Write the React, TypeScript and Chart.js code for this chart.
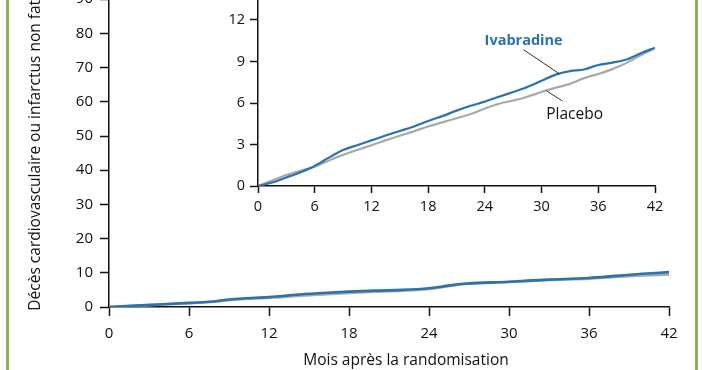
import React, { useEffect, useRef } from "react";
import { Chart, registerables } from "chart.js";

Chart.register(...registerables);

// ---- data ----
const seriesNames = ["Ivabradine", "Placebo"];
const xTicks = [0, 6, 12, 18, 24, 30, 36, 42];
const mainYTicks = [0, 10, 20, 30, 40, 50, 60, 70, 80, 90, 100];
const insetYTicks = [0, 3, 6, 9, 12, 15];
const xTitle = "Mois après la randomisation";
const yTitle = "Décès cardiovasculaire ou infarctus non fatal (%)";

const mainMonths = [0, 2, 4, 6, 7, 8, 9, 10, 12, 13, 14, 16, 18, 20, 22, 24, 25, 26, 27, 30, 33, 36, 38, 40, 42];
const mainIvabradine = [0, 0.4, 0.8, 1.2, 1.4, 1.7, 2.2, 2.5, 2.9, 3.2, 3.6, 4.1, 4.5, 4.8, 5.0, 5.5, 6.0, 6.6, 6.9, 7.4, 8.0, 8.5, 9.1, 9.7, 10.2];
const mainPlacebo = [0, 0.35, 0.75, 1.1, 1.3, 1.6, 2.0, 2.3, 2.7, 2.9, 3.2, 3.7, 4.1, 4.5, 4.8, 5.3, 5.8, 6.4, 6.8, 7.3, 7.9, 8.3, 8.8, 9.2, 9.5];

const insetMonths = [0, 1.5, 3, 4.5, 6, 7.5, 9, 10.5, 12, 13.5, 15, 16.5, 18, 19.5, 21, 22.5, 24, 25.5, 27, 28.5, 30, 31.5, 33, 34.5, 36, 37.5, 39, 40.5, 42];
const insetIvabradine = [0, 0.25, 0.62, 1.0, 1.45, 2.05, 2.6, 2.95, 3.3, 3.65, 3.98, 4.3, 4.7, 5.05, 5.45, 5.8, 6.1, 6.45, 6.8, 7.15, 7.6, 8.05, 8.3, 8.42, 8.75, 8.92, 9.15, 9.6, 10.0];
const insetPlacebo = [0, 0.4, 0.8, 1.1, 1.4, 1.85, 2.25, 2.6, 2.95, 3.3, 3.63, 3.95, 4.3, 4.6, 4.9, 5.2, 5.6, 5.95, 6.18, 6.45, 6.8, 7.1, 7.38, 7.8, 8.1, 8.45, 8.9, 9.45, 9.95];

// label anchors in inset data coordinates
const ivaLabelAt = { x: 28.1, y: 10.5 };
const ivaLeader = [{ x: 28.1, y: 9.85 }, { x: 31.9, y: 8.1 }];
const plaLabelAt = { x: 33.5, y: 5.13 };
const plaLeader = [{ x: 30.5, y: 6.88 }, { x: 32.2, y: 6.15 }];

// ---- styles ----
const BLUE = "#2c72ad";
const GRAY = "#a9a9a9";
const INK = "#111111";
const FONT = "'Open Sans', 'DejaVu Sans', sans-serif";
const GREEN = "#8db25f";

const pts = (xs: number[], ys: number[]) => xs.map((x, i) => ({ x, y: ys[i] }));

function axisCommon(tickLen: number, pad: number, size: number, ticksArr: number[]) {
  return {
    type: "linear" as const,
    grid: { display: true, drawOnChartArea: false, drawTicks: true, tickLength: tickLen, tickColor: INK, tickWidth: 1.5 },
    border: { display: true, color: INK, width: 1.5 },
    ticks: { color: INK, padding: pad, font: { family: FONT, size }, autoSkip: false, maxRotation: 0 },
    afterBuildTicks: (s: any) => {
      s.ticks = ticksArr.map((v) => ({ value: v }));
    },
  };
}

export default function App() {
  const mainRef = useRef<HTMLCanvasElement>(null);
  const insetRef = useRef<HTMLCanvasElement>(null);

  useEffect(() => {
    const xTitlePlugin = {
      id: "xTitle",
      afterDraw(chart: any) {
        const { ctx, chartArea } = chart;
        ctx.save();
        ctx.font = `15.5px ${FONT}`;
        ctx.fillStyle = INK;
        ctx.textAlign = "center";
        ctx.textBaseline = "middle";
        ctx.fillText(xTitle, (chartArea.left + chartArea.right) / 2 + 17, chart.height - 9);
        ctx.restore();
      },
    };

    const main = new Chart(mainRef.current!, {
      type: "line",
      data: {
        datasets: [
          { label: seriesNames[0], data: pts(mainMonths, mainIvabradine), borderColor: BLUE, borderWidth: 2.6, pointRadius: 0, cubicInterpolationMode: "monotone" },
          { label: seriesNames[1], data: pts(mainMonths, mainPlacebo), borderColor: GRAY, borderWidth: 2.6, pointRadius: 0, cubicInterpolationMode: "monotone" },
        ],
      },
      options: {
        responsive: false,
        animation: false,
        devicePixelRatio: 1,
        layout: { padding: { left: 0, right: 33, top: 25, bottom: 0 } },
        plugins: { legend: { display: false }, tooltip: { enabled: false } },
        scales: {
          x: {
            ...axisCommon(9, 9, 15, xTicks),
            min: 0,
            max: 42,
            afterFit: (s: any) => {
              s.height = 63;
            },
          },
          y: {
            ...axisCommon(9, 7, 15, mainYTicks),
            min: 0,
            max: 100,
            title: { display: true, text: yTitle, color: INK, font: { family: FONT, size: 15.5 }, padding: { top: 26, bottom: 0 } },
            afterFit: (s: any) => {
              s.width = 109;
            },
          },
        },
      } as any,
      plugins: [xTitlePlugin],
    });

    const labelsPlugin = {
      id: "insetLabels",
      afterDatasetsDraw(chart: any) {
        const { ctx } = chart;
        const xs = chart.scales.x;
        const ys = chart.scales.y;
        const px = (p: { x: number; y: number }) => [xs.getPixelForValue(p.x), ys.getPixelForValue(p.y)];
        ctx.save();
        ctx.strokeStyle = "#333";
        ctx.lineWidth = 1;
        for (const seg of [ivaLeader, plaLeader]) {
          const [x1, y1] = px(seg[0]);
          const [x2, y2] = px(seg[1]);
          ctx.beginPath();
          ctx.moveTo(x1, y1);
          ctx.lineTo(x2, y2);
          ctx.stroke();
        }
        ctx.textAlign = "center";
        ctx.textBaseline = "middle";
        ctx.font = `bold 14.5px ${FONT}`;
        ctx.fillStyle = BLUE;
        const [ix, iy] = px(ivaLabelAt);
        ctx.fillText(seriesNames[0], ix, iy);
        ctx.font = `15.5px ${FONT}`;
        ctx.fillStyle = INK;
        const [qx, qy] = px(plaLabelAt);
        ctx.fillText(seriesNames[1], qx, qy);
        ctx.restore();
      },
    };

    const inset = new Chart(insetRef.current!, {
      type: "line",
      data: {
        datasets: [
          { label: seriesNames[0], data: pts(insetMonths, insetIvabradine), borderColor: BLUE, borderWidth: 2.2, pointRadius: 0, tension: 0.3 },
          { label: seriesNames[1], data: pts(insetMonths, insetPlacebo), borderColor: GRAY, borderWidth: 2.2, pointRadius: 0, tension: 0.3 },
        ],
      },
      options: {
        responsive: false,
        animation: false,
        devicePixelRatio: 1,
        layout: { padding: { left: 0, right: 25, top: 18.5, bottom: 0 } },
        plugins: { legend: { display: false }, tooltip: { enabled: false } },
        scales: {
          x: {
            ...axisCommon(7, 5, 14.5, xTicks),
            min: 0,
            max: 42,
            afterFit: (s: any) => {
              s.height = 34;
            },
          },
          y: {
            ...axisCommon(8, 5, 14.5, insetYTicks),
            min: 0,
            max: 15,
            afterFit: (s: any) => {
              s.width = 58;
            },
          },
        },
      } as any,
      plugins: [labelsPlugin],
    });

    return () => {
      main.destroy();
      inset.destroy();
    };
  }, []);

  return (
    <div style={{ position: "fixed", left: 0, top: 0, width: 702, height: 370, overflow: "hidden", background: "#fff" }}>
      <canvas ref={mainRef} width={702} height={430} style={{ position: "absolute", left: 0, top: -60, width: 702, height: 430 }} />
      <canvas ref={insetRef} width={480} height={260} style={{ position: "absolute", left: 200, top: -40, width: 480, height: 260 }} />
      <div style={{ position: "absolute", left: 6, top: 0, width: 2.5, height: 370, background: GREEN }} />
      <div style={{ position: "absolute", left: 695, top: 0, width: 2.5, height: 370, background: GREEN }} />
    </div>
  );
}
